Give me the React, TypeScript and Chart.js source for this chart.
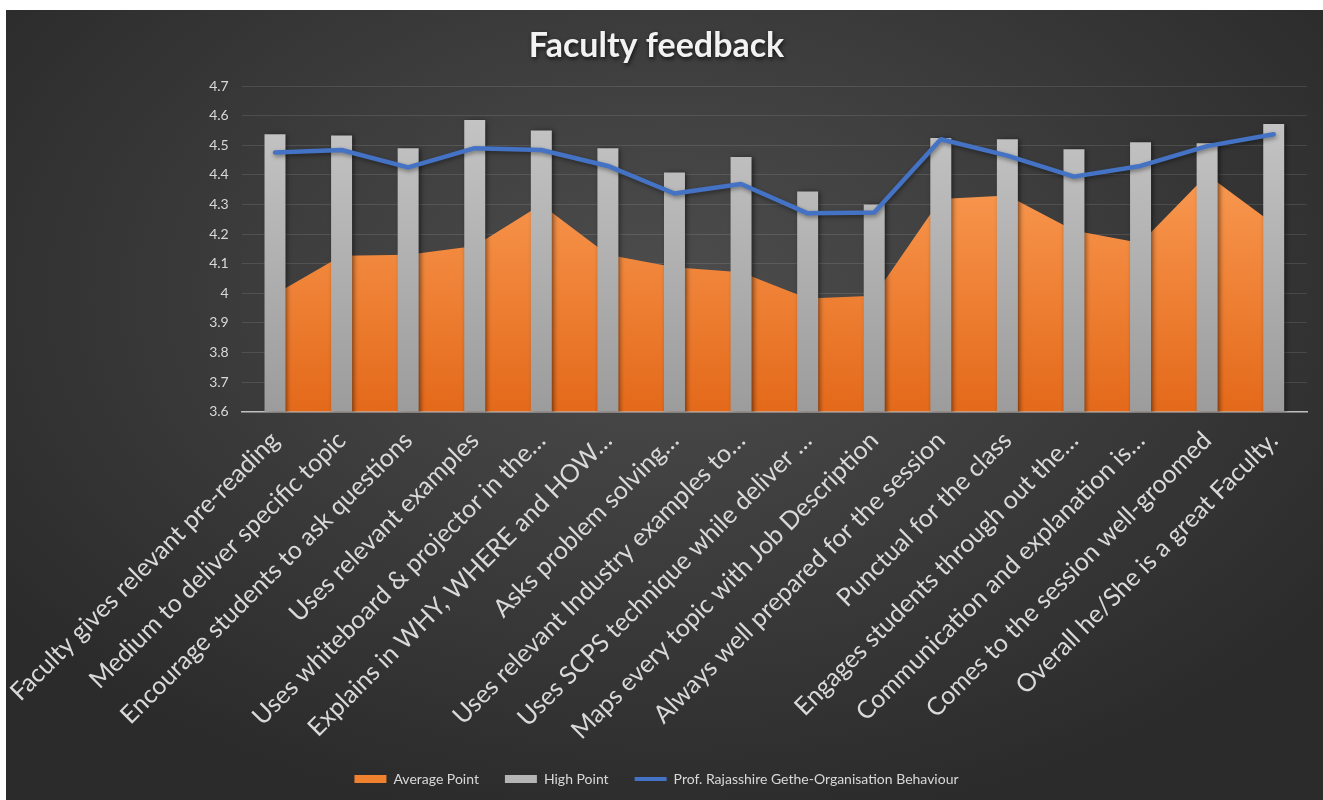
import React, { useEffect, useRef } from 'react';
import { Chart, registerables } from 'chart.js';

Chart.register(...registerables);

const categories = [
  'Faculty gives relevant pre-reading',
  'Medium to deliver specific topic',
  'Encourage students to ask questions',
  'Uses relevant examples',
  'Uses whiteboard & projector in the…',
  'Explains in WHY, WHERE and HOW…',
  'Asks problem solving…',
  'Uses relevant Industry examples to…',
  'Uses SCPS technique while deliver …',
  'Maps every topic with Job Description',
  'Always well prepared for the session',
  'Punctual for the class',
  'Engages students through out the…',
  'Communication and explanation is…',
  'Comes to the session well-groomed',
  'Overall he/She is a great Faculty.',
];

const averagePoint = [3.997, 4.127, 4.13, 4.16, 4.3, 4.13, 4.088, 4.071, 3.982, 3.992, 4.318, 4.33, 4.212, 4.17, 4.4, 4.234];
const highPoint = [4.537, 4.533, 4.49, 4.585, 4.55, 4.49, 4.408, 4.46, 4.344, 4.3, 4.524, 4.52, 4.486, 4.51, 4.507, 4.572];
const profPoint = [4.475, 4.484, 4.425, 4.49, 4.484, 4.43, 4.337, 4.369, 4.27, 4.273, 4.52, 4.465, 4.394, 4.43, 4.497, 4.537];

const yTickLabels = ['3.6', '3.7', '3.8', '3.9', '4', '4.1', '4.2', '4.3', '4.4', '4.5', '4.6', '4.7'];

const seriesNames = ['Average Point', 'High Point', 'Prof. Rajasshire Gethe-Organisation Behaviour'];
const chartTitle = 'Faculty feedback';

const FONT = 'Lato';

const shadowPlugin = {
  id: 'shadows',
  beforeDatasetDraw(chart: any, args: any) {
    const c = chart.ctx;
    c.save();
    if (args.index === 1) {
      c.shadowColor = 'rgba(0,0,0,0.55)';
      c.shadowBlur = 5;
      c.shadowOffsetX = 2;
      c.shadowOffsetY = 1;
    } else if (args.index === 2) {
      c.shadowColor = 'rgba(0,0,0,0.4)';
      c.shadowBlur = 4;
      c.shadowOffsetX = 1;
      c.shadowOffsetY = 2;
    }
  },
  afterDatasetDraw(chart: any) {
    chart.ctx.restore();
  },
};

export default function App() {
  const ref = useRef<HTMLCanvasElement | null>(null);

  useEffect(() => {
    if (!ref.current) return;

    const areaFill = (ctx: any) => {
      const { chart } = ctx;
      const area = chart.chartArea;
      if (!area) return '#f0812f';
      const g = chart.ctx.createLinearGradient(0, area.top + 80, 0, area.bottom);
      g.addColorStop(0, '#f99a52');
      g.addColorStop(1, '#e4691a');
      return g;
    };
    const barFill = (ctx: any) => {
      const { chart } = ctx;
      const area = chart.chartArea;
      if (!area) return '#b3b3b3';
      const g = chart.ctx.createLinearGradient(0, area.top + 30, 0, area.bottom);
      g.addColorStop(0, '#c4c4c4');
      g.addColorStop(1, '#9c9c9c');
      return g;
    };

    const chart = new Chart(ref.current, {
      type: 'bar',
      data: {
        labels: categories,
        datasets: [
          {
            type: 'line',
            label: seriesNames[0],
            data: averagePoint,
            fill: 'start',
            backgroundColor: areaFill,
            borderWidth: 0,
            borderColor: 'rgba(0,0,0,0)',
            pointRadius: 0,
            tension: 0,
            order: 3,
          } as any,
          {
            type: 'bar',
            label: seriesNames[1],
            data: highPoint,
            backgroundColor: barFill,
            borderWidth: 0,
            categoryPercentage: 1,
            barPercentage: 0.315,
            order: 2,
          } as any,
          {
            type: 'line',
            label: seriesNames[2],
            data: profPoint,
            fill: false,
            borderColor: '#4472c4',
            borderWidth: 4.5,
            borderCapStyle: 'round',
            borderJoinStyle: 'round',
            pointRadius: 0,
            tension: 0,
            order: 1,
          } as any,
        ],
      },
      options: {
        animation: false,
        responsive: true,
        maintainAspectRatio: false,
        layout: { padding: { left: 0, right: 16, top: 0, bottom: 4 } },
        plugins: {
          tooltip: { enabled: false },
          title: {
            display: true,
            text: chartTitle,
            color: '#f2f2f2',
            font: { family: FONT, size: 34, weight: 'bold' },
            padding: { top: 15.6, bottom: 19.6 },
          },
          legend: {
            display: true,
            position: 'bottom',
            labels: {
              color: '#d9d9d9',
              font: { family: FONT, size: 14 },
              usePointStyle: true,
              pointStyleWidth: 32,
              boxHeight: 8,
              padding: 26,
              generateLabels: () => [
                { text: seriesNames[0], fillStyle: '#f0812f', strokeStyle: '#f0812f', lineWidth: 0, pointStyle: 'rect', hidden: false, datasetIndex: 0, fontColor: '#d9d9d9' },
                { text: seriesNames[1], fillStyle: '#b5b5b5', strokeStyle: '#b5b5b5', lineWidth: 0, pointStyle: 'rect', hidden: false, datasetIndex: 1, fontColor: '#d9d9d9' },
                { text: seriesNames[2], fillStyle: '#4472c4', strokeStyle: '#4472c4', lineWidth: 4, pointStyle: 'line', hidden: false, datasetIndex: 2, fontColor: '#d9d9d9' },
              ],
            },
          },
        },
        scales: {
          x: {
            offset: true,
            grid: { display: false, drawTicks: false },
            border: { display: true, color: '#bfbfbf', width: 1.5 },
            ticks: {
              color: '#d9d9d9',
              font: { family: FONT, size: 25 },
              minRotation: 45,
              maxRotation: 45,
              autoSkip: false,
              padding: 14,
            },
            afterFit: (scale: any) => {
              scale.height = 334.3;
              scale.paddingLeft = 0;
              scale.paddingRight = 0;
            },
          },
          y: {
            min: 3.6,
            max: 4.7,
            grid: { color: 'rgba(255,255,255,0.11)', drawTicks: false, lineWidth: 1 },
            border: { display: false },
            ticks: {
              stepSize: 0.1,
              color: '#d9d9d9',
              font: { family: FONT, size: 14 },
              padding: 13,
              callback: (_v: any, i: number) => yTickLabels[i],
            },
            afterFit: (scale: any) => {
              scale.width = 235.7;
              scale.paddingTop = 0;
              scale.paddingBottom = 0;
            },
          },
        },
      },
      plugins: [shadowPlugin],
    });

    const tb = (chart as any).titleBlock;
    if (tb) {
      const orig = tb.draw.bind(tb);
      tb.draw = (...a: any[]) => {
        const c = chart.ctx;
        c.save();
        c.shadowColor = 'rgba(0,0,0,0.7)';
        c.shadowBlur = 4;
        c.shadowOffsetX = 1;
        c.shadowOffsetY = 2;
        orig(...a);
        c.restore();
      };
      chart.draw();
    }

    return () => chart.destroy();
  }, []);

  return (
    <div
      style={{
        position: 'absolute',
        left: 6,
        top: 10,
        width: 1317,
        height: 790,
        background: 'radial-gradient(ellipse 62% 68% at 50% 36%, #4d4d4d 0%, #3e3e3e 45%, #2b2b2b 100%)',
      }}
    >
      <canvas ref={ref} />
    </div>
  );
}
